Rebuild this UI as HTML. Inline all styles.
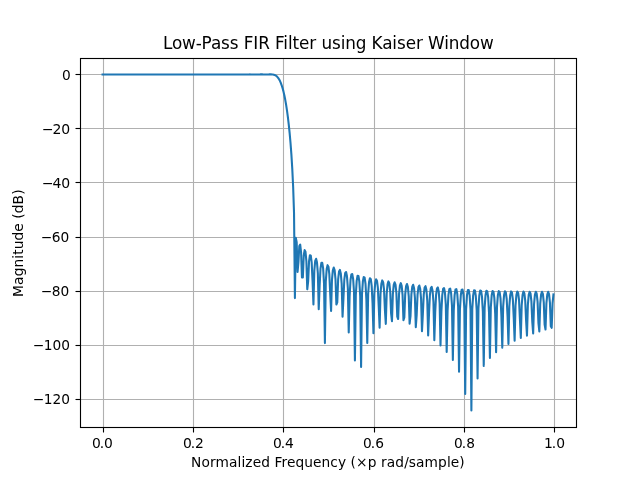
<!DOCTYPE html>
<html lang="en">
<head>
<meta charset="utf-8">
<title>Low-Pass FIR Filter using Kaiser Window</title>
<style>
html,body{margin:0;padding:0;background:#fff;}
svg{display:block;}
text{font-family:"DejaVu Sans", "Liberation Sans", sans-serif;fill:#000;font-size:13.889px;}
text.ttl{font-size:16.667px;}
.g{stroke:#b0b0b0;stroke-width:1.111;fill:none;}
.k{stroke:#000;stroke-width:1.111;fill:none;}
</style>
</head>
<body>
<svg width="640" height="480" viewBox="0 0 640 480">
<rect x="0" y="0" width="640" height="480" fill="#ffffff"/>
<g class="g">
<line x1="103.5" y1="58.5" x2="103.5" y2="427.5"/>
<line x1="193.5" y1="58.5" x2="193.5" y2="427.5"/>
<line x1="283.5" y1="58.5" x2="283.5" y2="427.5"/>
<line x1="374.5" y1="58.5" x2="374.5" y2="427.5"/>
<line x1="464.5" y1="58.5" x2="464.5" y2="427.5"/>
<line x1="554.5" y1="58.5" x2="554.5" y2="427.5"/>
<line x1="80.5" y1="74.5" x2="576.5" y2="74.5"/>
<line x1="80.5" y1="128.5" x2="576.5" y2="128.5"/>
<line x1="80.5" y1="182.5" x2="576.5" y2="182.5"/>
<line x1="80.5" y1="237.5" x2="576.5" y2="237.5"/>
<line x1="80.5" y1="291.5" x2="576.5" y2="291.5"/>
<line x1="80.5" y1="345.5" x2="576.5" y2="345.5"/>
<line x1="80.5" y1="399.5" x2="576.5" y2="399.5"/>
</g>
<g class="k">
<line x1="103.5" y1="427.5" x2="103.5" y2="432.5"/>
<line x1="193.5" y1="427.5" x2="193.5" y2="432.5"/>
<line x1="283.5" y1="427.5" x2="283.5" y2="432.5"/>
<line x1="374.5" y1="427.5" x2="374.5" y2="432.5"/>
<line x1="464.5" y1="427.5" x2="464.5" y2="432.5"/>
<line x1="554.5" y1="427.5" x2="554.5" y2="432.5"/>
<line x1="75.5" y1="74.5" x2="80.5" y2="74.5"/>
<line x1="75.5" y1="128.5" x2="80.5" y2="128.5"/>
<line x1="75.5" y1="182.5" x2="80.5" y2="182.5"/>
<line x1="75.5" y1="237.5" x2="80.5" y2="237.5"/>
<line x1="75.5" y1="291.5" x2="80.5" y2="291.5"/>
<line x1="75.5" y1="345.5" x2="80.5" y2="345.5"/>
<line x1="75.5" y1="399.5" x2="80.5" y2="399.5"/>
</g>
<clipPath id="c"><rect x="80.5" y="58.5" width="496" height="369"/></clipPath>
<path clip-path="url(#c)" d="M102.55 74.42 L103.43 74.42 L104.31 74.42 L105.19 74.42 L106.08 74.42 L106.96 74.42 L107.84 74.42 L108.72 74.42 L109.60 74.42 L110.49 74.42 L111.37 74.42 L112.25 74.42 L113.13 74.42 L114.02 74.42 L114.90 74.42 L115.78 74.42 L116.66 74.42 L117.55 74.42 L118.43 74.42 L119.31 74.42 L120.19 74.42 L121.08 74.42 L121.96 74.42 L122.84 74.42 L123.72 74.42 L124.61 74.42 L125.49 74.42 L126.37 74.42 L127.25 74.42 L128.14 74.42 L129.02 74.42 L129.90 74.42 L130.78 74.42 L131.66 74.42 L132.55 74.42 L133.43 74.42 L134.31 74.42 L135.19 74.42 L136.08 74.42 L136.96 74.42 L137.84 74.42 L138.72 74.42 L139.61 74.42 L140.49 74.42 L141.37 74.42 L142.25 74.42 L143.14 74.42 L144.02 74.42 L144.90 74.42 L145.78 74.42 L146.67 74.42 L147.55 74.42 L148.43 74.42 L149.31 74.42 L150.20 74.42 L151.08 74.42 L151.96 74.42 L152.84 74.42 L153.72 74.42 L154.61 74.42 L155.49 74.42 L156.37 74.42 L157.25 74.42 L158.14 74.43 L159.02 74.43 L159.90 74.42 L160.78 74.42 L161.67 74.42 L162.55 74.42 L163.43 74.42 L164.31 74.42 L165.20 74.42 L166.08 74.42 L166.96 74.42 L167.84 74.42 L168.73 74.42 L169.61 74.42 L170.49 74.43 L171.37 74.43 L172.26 74.42 L173.14 74.42 L174.02 74.42 L174.90 74.42 L175.79 74.42 L176.67 74.42 L177.55 74.42 L178.43 74.42 L179.31 74.42 L180.20 74.42 L181.08 74.42 L181.96 74.42 L182.84 74.43 L183.73 74.43 L184.61 74.43 L185.49 74.42 L186.37 74.42 L187.26 74.42 L188.14 74.42 L189.02 74.42 L189.90 74.42 L190.79 74.42 L191.67 74.42 L192.55 74.42 L193.43 74.42 L194.32 74.43 L195.20 74.43 L196.08 74.43 L196.96 74.43 L197.85 74.42 L198.73 74.42 L199.61 74.42 L200.49 74.42 L201.37 74.42 L202.26 74.42 L203.14 74.42 L204.02 74.42 L204.90 74.42 L205.79 74.42 L206.67 74.43 L207.55 74.43 L208.43 74.43 L209.32 74.43 L210.20 74.42 L211.08 74.42 L211.96 74.42 L212.85 74.42 L213.73 74.42 L214.61 74.42 L215.49 74.42 L216.38 74.42 L217.26 74.42 L218.14 74.43 L219.02 74.43 L219.91 74.43 L220.79 74.43 L221.67 74.43 L222.55 74.42 L223.43 74.42 L224.32 74.42 L225.20 74.42 L226.08 74.42 L226.96 74.42 L227.85 74.42 L228.73 74.42 L229.61 74.42 L230.49 74.43 L231.38 74.43 L232.26 74.43 L233.14 74.43 L234.02 74.43 L234.91 74.42 L235.79 74.42 L236.67 74.42 L237.55 74.42 L238.44 74.42 L239.32 74.42 L240.20 74.42 L241.08 74.42 L241.97 74.43 L242.85 74.43 L243.73 74.43 L244.61 74.43 L245.50 74.43 L246.38 74.43 L247.26 74.42 L248.14 74.42 L249.02 74.42 L249.91 74.41 L250.79 74.42 L251.67 74.42 L252.55 74.42 L253.44 74.43 L254.32 74.43 L255.20 74.43 L256.08 74.43 L256.97 74.43 L257.85 74.43 L258.73 74.42 L259.61 74.42 L260.50 74.41 L261.38 74.41 L262.26 74.41 L263.14 74.42 L264.03 74.42 L264.91 74.43 L265.79 74.44 L266.67 74.44 L267.56 74.44 L268.44 74.43 L269.32 74.41 L270.20 74.40 L271.08 74.40 L271.97 74.44 L272.85 74.53 L273.73 74.70 L274.61 74.98 L275.50 75.40 L276.38 76.00 L277.26 76.81 L278.14 77.87 L279.03 79.21 L279.91 80.86 L280.79 82.87 L281.67 85.27 L282.56 88.09 L283.44 91.39 L284.32 95.20 L285.20 99.57 L286.09 104.58 L286.97 110.30 L287.85 116.82 L288.73 124.27 L289.62 132.82 L290.50 142.74 L291.38 154.43 L292.26 168.59 L293.14 186.71 L294.03 213.34 L294.91 298.09 L295.79 237.77 L296.67 242.13 L297.56 271.93 L298.44 262.10 L299.32 246.04 L300.20 244.61 L301.09 252.36 L301.97 277.44 L302.85 277.41 L303.73 255.77 L304.62 250.12 L305.50 251.81 L306.38 261.09 L307.26 289.27 L308.15 281.40 L309.03 261.34 L309.91 255.24 L310.79 255.74 L311.68 262.59 L312.56 281.26 L313.44 304.35 L314.32 270.42 L315.21 260.90 L316.09 258.79 L316.97 262.31 L317.85 273.26 L318.73 309.29 L319.62 286.03 L320.50 268.68 L321.38 262.79 L322.26 262.82 L323.15 268.48 L324.03 283.57 L324.91 343.09 L325.79 281.32 L326.68 269.09 L327.56 265.18 L328.44 266.66 L329.32 274.10 L330.21 293.84 L331.09 310.87 L331.97 279.79 L332.85 270.22 L333.74 267.60 L334.62 270.19 L335.50 279.20 L336.38 304.58 L337.27 302.36 L338.15 279.49 L339.03 271.58 L339.91 269.92 L340.79 273.40 L341.68 283.89 L342.56 316.72 L343.44 298.43 L344.32 279.73 L345.21 273.00 L346.09 272.08 L346.97 276.33 L347.85 288.21 L348.74 332.36 L349.62 296.34 L350.50 280.24 L351.38 274.39 L352.27 274.08 L353.15 279.01 L354.03 292.26 L354.91 360.57 L355.80 295.17 L356.68 280.88 L357.56 275.73 L358.44 275.94 L359.33 281.48 L360.21 296.08 L361.09 366.93 L361.97 294.51 L362.86 281.57 L363.74 277.00 L364.62 277.66 L365.50 283.76 L366.38 299.72 L367.27 342.86 L368.15 294.16 L369.03 282.28 L369.91 278.20 L370.80 279.25 L371.68 285.89 L372.56 303.23 L373.44 333.24 L374.33 294.00 L375.21 282.98 L376.09 279.33 L376.97 280.74 L377.86 287.87 L378.74 306.65 L379.62 327.62 L380.50 293.96 L381.39 283.66 L382.27 280.39 L383.15 282.13 L384.03 289.74 L384.92 310.00 L385.80 323.84 L386.68 293.99 L387.56 284.32 L388.44 281.38 L389.33 283.44 L390.21 291.51 L391.09 313.34 L391.97 321.11 L392.86 294.08 L393.74 284.94 L394.62 282.31 L395.50 284.66 L396.39 293.18 L397.27 316.70 L398.15 319.02 L399.03 294.19 L399.92 285.53 L400.80 283.19 L401.68 285.82 L402.56 294.78 L403.45 320.11 L404.33 317.37 L405.21 294.31 L406.09 286.09 L406.98 284.01 L407.86 286.91 L408.74 296.30 L409.62 323.62 L410.50 316.01 L411.39 294.44 L412.27 286.62 L413.15 284.79 L414.03 287.94 L414.92 297.77 L415.80 327.30 L416.68 314.88 L417.56 294.57 L418.45 287.11 L419.33 285.52 L420.21 288.92 L421.09 299.19 L421.98 331.20 L422.86 313.91 L423.74 294.70 L424.62 287.58 L425.51 286.21 L426.39 289.85 L427.27 300.56 L428.15 335.43 L429.04 313.06 L429.92 294.82 L430.80 288.01 L431.68 286.86 L432.57 290.74 L433.45 301.89 L434.33 340.12 L435.21 312.31 L436.09 294.93 L436.98 288.42 L437.86 287.47 L438.74 291.59 L439.62 303.19 L440.51 345.48 L441.39 311.63 L442.27 295.03 L443.15 288.79 L444.04 288.05 L444.92 292.40 L445.80 304.46 L446.68 351.90 L447.57 311.00 L448.45 295.11 L449.33 289.15 L450.21 288.60 L451.10 293.17 L451.98 305.70 L452.86 360.07 L453.74 310.43 L454.63 295.18 L455.51 289.47 L456.39 289.12 L457.27 293.92 L458.15 306.93 L459.04 371.75 L459.92 309.88 L460.80 295.24 L461.68 289.77 L462.57 289.61 L463.45 294.64 L464.33 308.14 L465.21 393.91 L466.10 309.37 L466.98 295.28 L467.86 290.05 L468.74 290.07 L469.63 295.33 L470.51 309.34 L471.39 410.40 L472.27 308.88 L473.16 295.31 L474.04 290.31 L474.92 290.51 L475.80 295.99 L476.69 310.54 L477.57 378.53 L478.45 308.41 L479.33 295.32 L480.21 290.54 L481.10 290.92 L481.98 296.64 L482.86 311.74 L483.74 365.88 L484.63 307.94 L485.51 295.32 L486.39 290.75 L487.27 291.31 L488.16 297.26 L489.04 312.93 L489.92 357.94 L490.80 307.49 L491.69 295.30 L492.57 290.95 L493.45 291.68 L494.33 297.86 L495.22 314.14 L496.10 352.17 L496.98 307.05 L497.86 295.27 L498.75 291.12 L499.63 292.03 L500.51 298.44 L501.39 315.35 L502.28 347.65 L503.16 306.61 L504.04 295.23 L504.92 291.27 L505.80 292.35 L506.69 299.01 L507.57 316.58 L508.45 343.94 L509.33 306.17 L510.22 295.17 L511.10 291.41 L511.98 292.66 L512.86 299.56 L513.75 317.83 L514.63 340.78 L515.51 305.74 L516.39 295.09 L517.28 291.52 L518.16 292.95 L519.04 300.10 L519.92 319.11 L520.81 338.03 L521.69 305.30 L522.57 295.00 L523.45 291.62 L524.34 293.22 L525.22 300.62 L526.10 320.42 L526.98 335.59 L527.86 304.86 L528.75 294.89 L529.63 291.70 L530.51 293.47 L531.39 301.13 L532.28 321.78 L533.16 333.39 L534.04 304.42 L534.92 294.77 L535.81 291.76 L536.69 293.71 L537.57 301.62 L538.45 323.18 L539.34 331.39 L540.22 303.97 L541.10 294.63 L541.98 291.80 L542.87 293.92 L543.75 302.11 L544.63 324.65 L545.51 329.53 L546.40 303.51 L547.28 294.48 L548.16 291.83 L549.04 294.12 L549.92 302.59 L550.81 326.18 L551.69 327.81 L552.57 303.05 L553.45 294.31" fill="none" stroke="#1f77b4" stroke-width="2.083" stroke-linejoin="round" stroke-linecap="square"/>
<rect class="k" x="80.5" y="58.5" width="496" height="369" stroke-linejoin="miter"/>
<text class="ttl" transform="translate(162.938 48.520) scale(1.01 1.07)" x="0 8.911 18.936 32.426 38.243 47.525 57.55 66.213 74.876 80.074 89.48 94.307 105.817 111.015 119.183 123.762 128.342 134.777 144.926 151.733 156.931 167.327 175.99 180.569 190.965 201.361 206.559 217.079 227.104 231.683 240.347 250.495 257.302 262.5 278.465 283.045 293.441 303.837 313.861">Low-Pass FIR Filter using Kaiser Window</text>
<text transform="translate(191.062 466.500) scale(0.99 1.03)" x="0 10.48 19.066 24.621 38.258 46.97 50.884 54.798 62.247 70.833 79.798 84.217 91.288 96.843 105.429 114.394 123.232 131.818 140.657 148.359 156.692 161.111 166.667 178.409 187.374 191.793 197.601 206.313 215.278 219.949 227.146 235.859 249.495 258.46 262.374 270.96">Normalized Frequency (×p rad/sample)</text>
<text transform="translate(22.700 296.900) rotate(-90) scale(1.0 1.06)" x="0 12 20.625 29.5 38.25 42.125 47.625 56.375 65.25 73.75 78.125 83.625 92.5 102.125">Magnitude (dB)</text>
<text transform="translate(91.983 447.500) scale(1.0 1.045)" x="0 7.75 12.125">0.0</text>
<text transform="translate(182.966 447.500) scale(1.0 1.015)" x="0 7.75 12.125">0.2</text>
<text transform="translate(272.950 447.500) scale(1.0 1.045)" x="0 7.75 12.125">0.4</text>
<text transform="translate(363.120 447.500) scale(0.99 1.045)" x="0 7.828 12.247">0.6</text>
<text transform="translate(454.104 447.500) scale(0.99 1.03)" x="0 7.828 12.247">0.8</text>
<text transform="translate(543.962 447.500) scale(1.0 1.045)" x="0 7.875 12.25">1.0</text>
<text transform="translate(62.030 79.700) scale(0.99 1.045)" x="0">0</text>
<text transform="translate(41.905 133.740) scale(1.01 1.015)" x="0 10.52 19.183">−20</text>
<text transform="translate(41.905 187.520) scale(1.01 1.015)" x="0 10.52 19.183">−40</text>
<text transform="translate(41.030 241.550) scale(0.99 1.015)" x="0 10.732 19.697">−60</text>
<text transform="translate(41.030 295.590) scale(0.99 1.015)" x="0 10.732 19.697">−80</text>
<text transform="translate(33.030 349.620) scale(0.99 1.015)" x="0 10.732 19.697 28.535">−100</text>
<text transform="translate(33.030 403.650) scale(0.99 1.015)" x="0 10.732 19.697 28.535">−120</text>
</svg>
</body>
</html>
